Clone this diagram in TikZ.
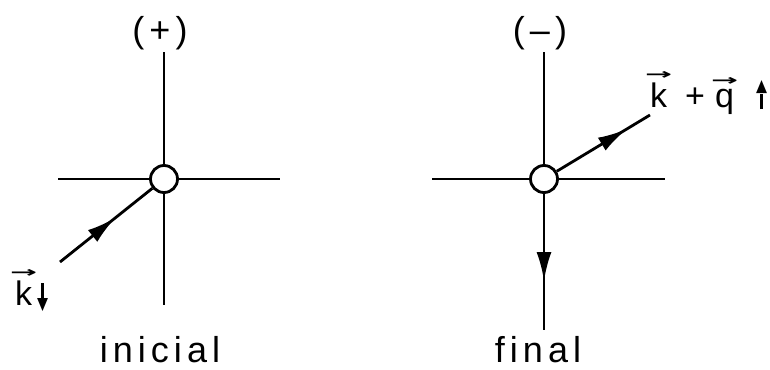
\documentclass[tikz,border=0pt]{standalone}
\usepackage{amsmath}
\usepackage{graphicx}
\usepackage{fontspec}
\setmainfont{Liberation Sans}
\newfontfamily\arrowfont{DejaVu Sans}
\usetikzlibrary{arrows.meta,decorations.markings,positioning}
\tikzstyle{line} = [draw, line width=2.8pt]
\tikzstyle{vertex} = [circle, draw, fill=white, line width=2.8pt, minimum size=27pt, inner sep=0pt]
\tikzstyle{lbl} = [font={\fontsize{34}{38}\selectfont}, inner sep=0pt]
\tikzstyle{word} = [lbl, font={\fontsize{36}{40}\selectfont\addfontfeatures{LetterSpace=14}}]
\tikzset{midarrow/.style={postaction={decorate},
    decoration={markings, mark=at position #1 with {\arrow{Latex[length=29pt,width=15pt]}}}}}
\newcommand{\vk}[1]{\leavevmode\vbox{\offinterlineskip\halign{\hfil##\hfil\cr
    \resizebox{27pt}{8pt}{\arrowfont\bfseries →}\cr\noalign{\kern3pt}\hbox{#1}\cr}}}
\newcommand{\spinhead}[1]{\resizebox{11pt}{11pt}{\arrowfont #1}}
\newcommand{\spindown}{\raisebox{-4pt}{\vbox{\offinterlineskip\halign{\hfil##\hfil\cr
    \rule{2.8pt}{15pt}\cr\spinhead{▼}\cr}}}}
\newcommand{\spinup}{\raisebox{-2pt}{\vbox{\offinterlineskip\halign{\hfil##\hfil\cr
    \spinhead{▲}\cr\rule{2.8pt}{15pt}\cr}}}}
\begin{document}
\begin{tikzpicture}[x=1pt, y=-1pt]
      \useasboundingbox (0,0) rectangle (770,369);
      \node [vertex] (vin) at (164,179) {};
      \coordinate (inW) at (58,179);
      \coordinate (inE) at (280,179);
      \coordinate (inN) at (164,52);
      \coordinate (inS) at (164,305);
      \coordinate (kin) at (60,262);
      \node [vertex] (vfin) at (544,179) {};
      \coordinate (finW) at (432,179);
      \coordinate (finE) at (665,179);
      \coordinate (finN) at (544,52);
      \coordinate (finS) at (544,330);
      \coordinate (kout) at (650,115);
      \path [line] (vin) -- (inW);
      \path [line] (vin) -- (inE);
      \path [line] (vin) -- (inN);
      \path [line] (vin) -- (inS);
      \path [line, midarrow=0.6] (kin) -- (vin);
      \path [line] (vfin) -- (finW);
      \path [line] (vfin) -- (finE);
      \path [line] (vfin) -- (finN);
      \path [line, midarrow=0.64] (vfin) -- (finS);
      \path [line, midarrow=0.75] (vfin) -- (kout);
      \node [word] (signin) at (160,33) {(+)};
      \node [word] (signfin) at (540,33) {(–)};
      \node [word, anchor=base] (initial) at (160,362) {inicial};
      \node [word, anchor=base] (final) at (538,362) {final};
      \node [lbl, anchor=base west] (kdown) at (10,305) {\vk{k}\spindown};
      \node [lbl, anchor=base west] (kup) at (645,107) {\vk{k}\hspace{13pt}+\hspace{6pt}\vk{q}\hspace{18pt}\spinup};
    \end{tikzpicture}
\end{document}
